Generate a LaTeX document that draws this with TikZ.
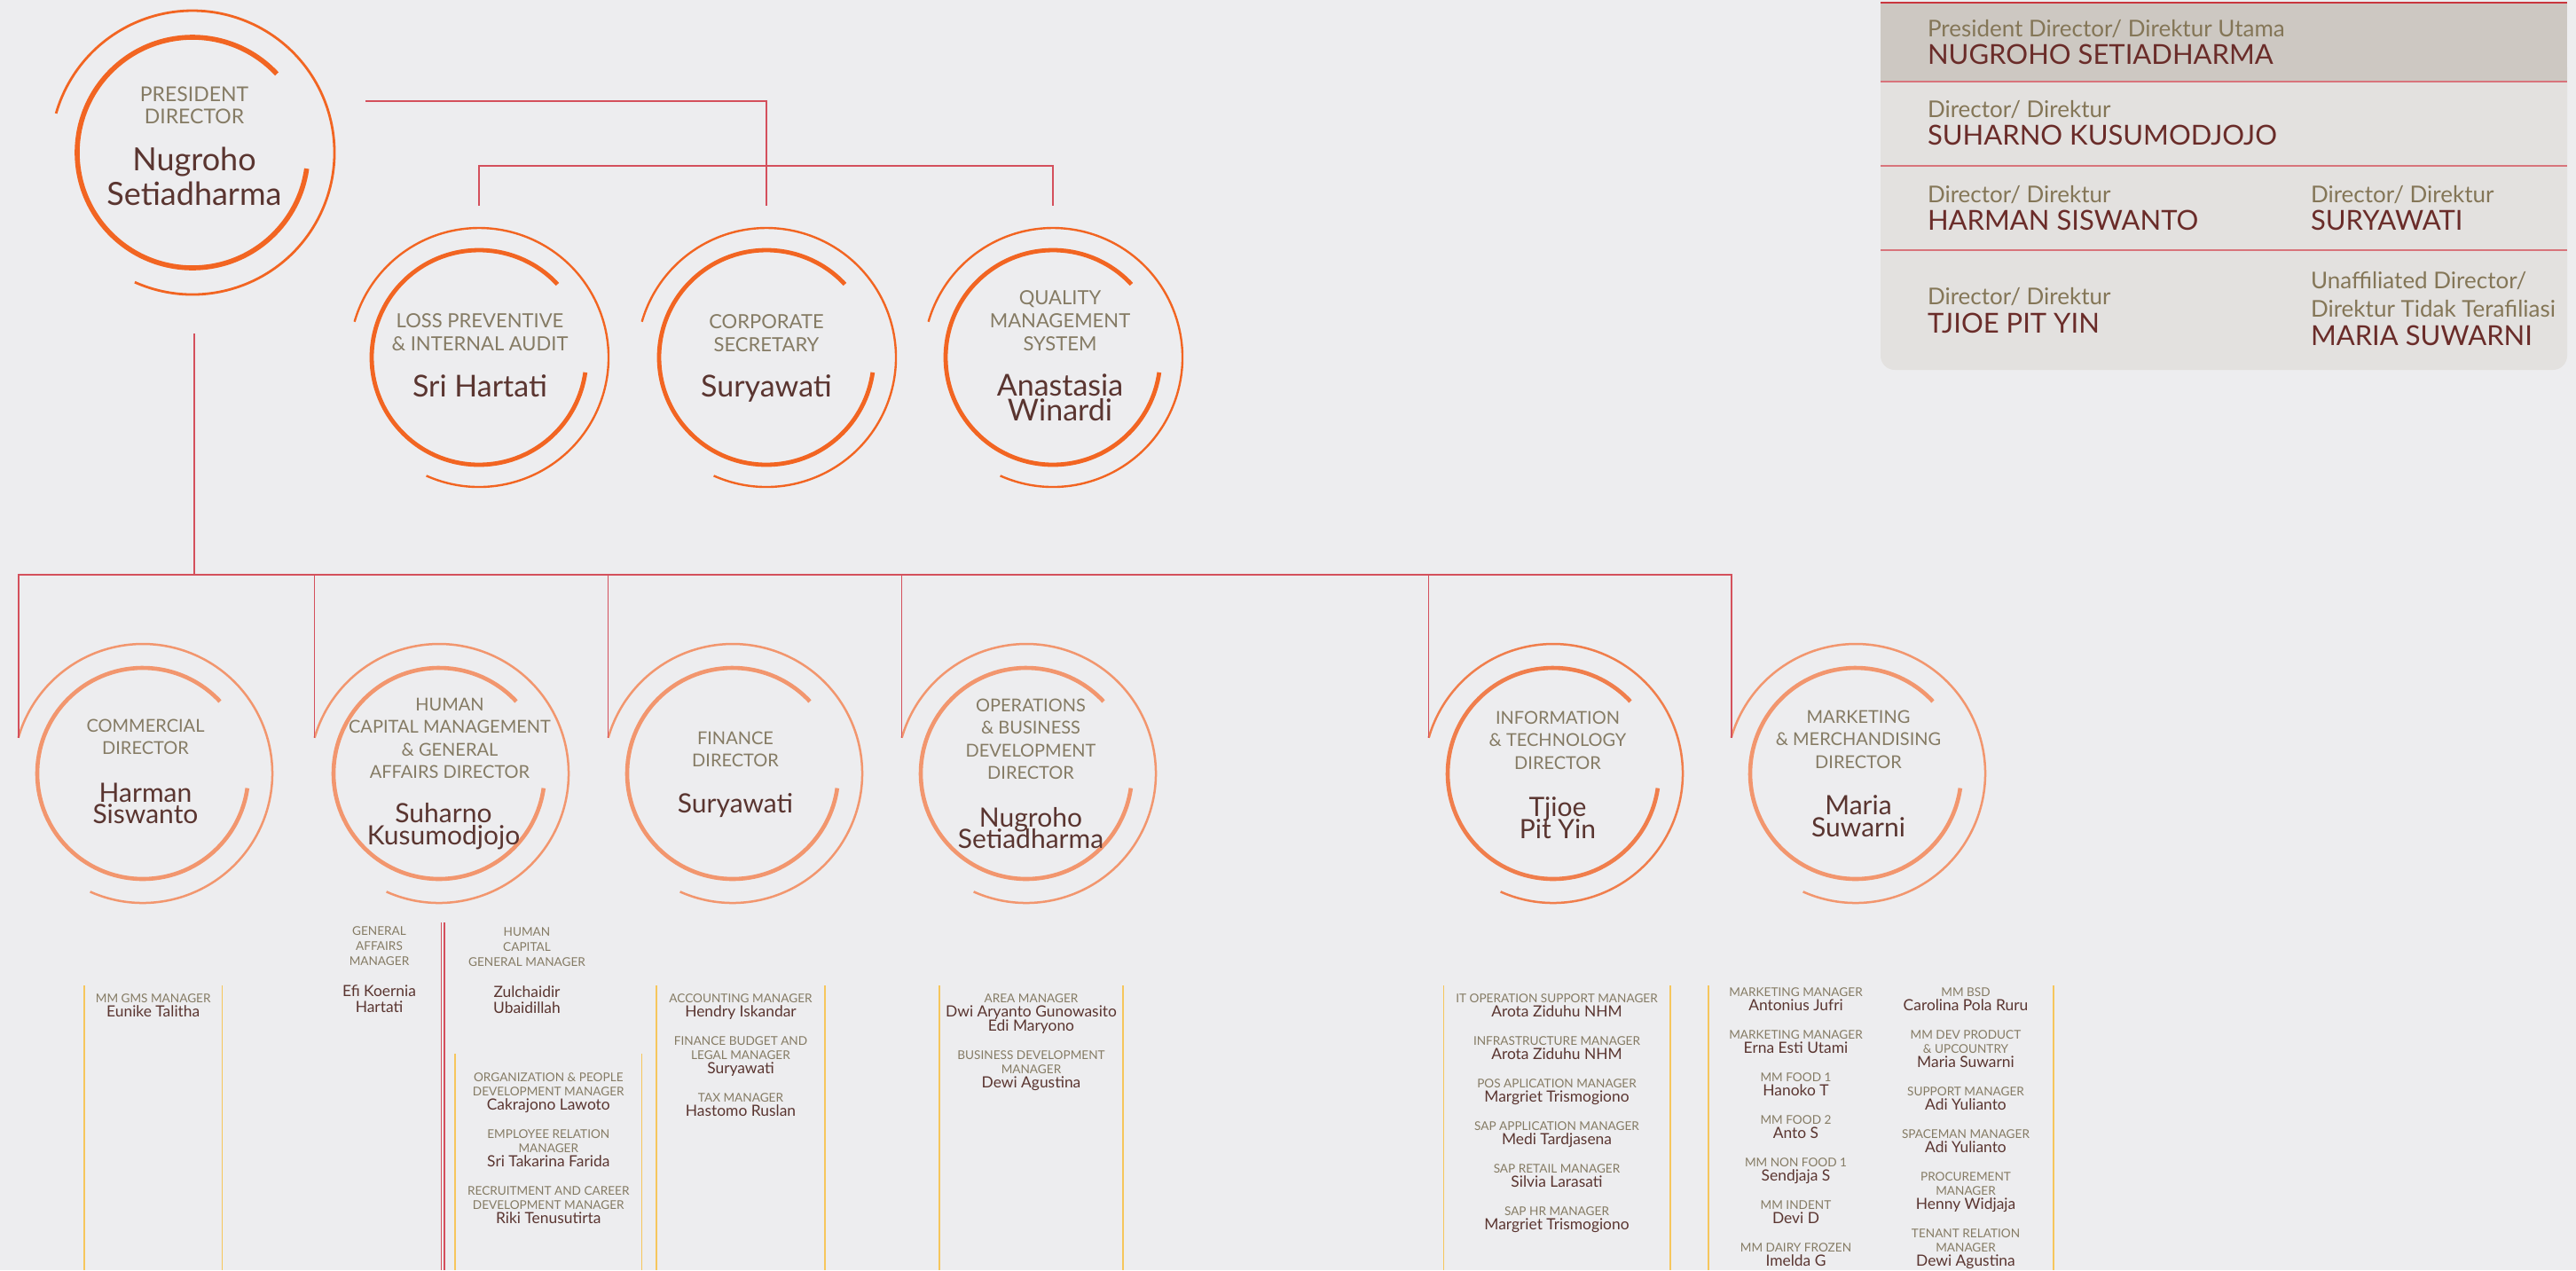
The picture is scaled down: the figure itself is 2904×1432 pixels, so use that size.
\documentclass[tikz,border=0pt]{standalone}
\usepackage{fontspec}
\setmainfont{Lato}
\usetikzlibrary{calc}
\definecolor{bgc}{HTML}{EDEDEF}
\definecolor{ringA}{HTML}{F26522}
\definecolor{ringB}{HTML}{F2966E}
\definecolor{ringC}{HTML}{F07E4C}
\definecolor{ttlc}{HTML}{857B64}
\definecolor{namec}{HTML}{5A3530}
\definecolor{connc}{HTML}{D4505C}
\definecolor{goldc}{HTML}{F6C65C}
\definecolor{lghead}{HTML}{CDC8C2}
\definecolor{lgbody}{HTML}{E3E1DF}
\definecolor{lgsep}{HTML}{D8747B}
\definecolor{lgtop}{HTML}{C9373E}
\definecolor{lgname}{HTML}{6A2C29}
\definecolor{lglab}{HTML}{847657}
\newcommand\cstack[2]{\vtop{\baselineskip=#1\relax\lineskiplimit=-100pt\relax\halign{\hfil##\hfil\cr#2\crcr}}}
\newcommand\mgT{\fontsize{6.8}{8}\selectfont\color{ttlc}}
\newcommand\mgN{\fontsize{8.7}{8}\selectfont\color{namec}}
\newcommand\mstack[2]{\vtop{\baselineskip=#1\relax\lineskiplimit=-100pt\relax\halign{\hfil{\mgT##}\hfil\cr#2\crcr}}}
\tikzset{
  pics/ring/.style n args={5}{code={
    \draw[draw=#3, line width=#4] (114:#1) arc[start angle=114, end angle=-164, radius=#1];
    \draw[draw=#3, line width=#5] (-43:#2) arc[start angle=-43, end angle=-352, radius=#2];
    \coordinate (-in) at (-164:#1);
    \coordinate (-top) at (0,-#1-25);
  }}
}
\begin{document}
\begin{tikzpicture}[x=0.5pt,y=-0.5pt,
  every node/.style={inner sep=0pt, outer sep=0pt},
  ttlA/.style={text=ttlc, anchor=base, font=\fontsize{11.5}{12.7}\selectfont},
  nmA/.style={text=namec, anchor=base, font=\fontsize{18}{19.5}\selectfont},
  ttlB/.style={text=ttlc, anchor=base, font=\fontsize{11}{13.2}\selectfont},
  nmB/.style={text=namec, anchor=base, font=\fontsize{17}{13.2}\selectfont},
  ttlC/.style={text=ttlc, anchor=base, font=\fontsize{10}{12.8}\selectfont},
  nmC/.style={text=namec, anchor=base, font=\fontsize{15}{12.5}\selectfont},
  mcol/.style={anchor=base, font=\fontsize{6.8}{8}\selectfont},
  lgl/.style={anchor=base west, text=lglab, font=\fontsize{13}{15}\selectfont},
  lgn/.style={anchor=base west, text=lgname, font=\fontsize{15.5}{17}\selectfont},
  conn/.style={draw=connc, line width=0.65pt},
  busline/.style={draw=connc, line width=1.1pt},
  gold/.style={draw=goldc, line width=0.8pt},
  redrule/.style={draw=connc, line width=0.55pt}]
\useasboundingbox (0,0) rectangle (2904,1432);
\fill[bgc] (0,0) rectangle (2904,1432);

% legend box
\fill[lgbody, rounded corners=8pt] (2120,60) rectangle (2894,417);
\fill[lghead] (2120,3) rectangle (2894,92);
\draw[lgtop, line width=0.7pt] (2120,3) -- (2894,3);
\foreach \yy in {92,187,282} \draw[lgsep, line width=1.1pt] (2120,\yy) -- (2894,\yy);
\node[lgl] (l1a) at (2173,41) {President Director/ Direktur Utama};
\node[lgn] (l1b) at (2173,72) {NUGROHO SETIADHARMA};
\node[lgl] (l2a) at (2173,132) {Director/ Direktur};
\node[lgn] (l2b) at (2173,163) {SUHARNO KUSUMODJOJO};
\node[lgl] (l3a) at (2173,228) {Director/ Direktur};
\node[lgn] (l3b) at (2173,259) {HARMAN SISWANTO};
\node[lgl] (l3c) at (2605,228) {Director/ Direktur};
\node[lgn] (l3d) at (2605,259) {SURYAWATI};
\node[lgl] (l4a) at (2173,343) {Director/ Direktur};
\node[lgn] (l4b) at (2173,375) {TJIOE PIT YIN};
\node[lgl] (l4c) at (2605,325) {Unaffiliated Director/};
\node[lgl] (l4d) at (2605,357) {Direktur Tidak Terafiliasi};
\node[lgn] (l4e) at (2605,389) {MARIA SUWARNI};

% rings
\pic (pd) at (217,172) {ring={160}{130}{ringA}{1.4pt}{2.8pt}};
\pic (lp) at (540,403) {ring={146}{121}{ringA}{1.2pt}{2.4pt}};
\pic (cs) at (864,403) {ring={146}{121}{ringA}{1.2pt}{2.4pt}};
\pic (qm) at (1187,403) {ring={146}{121}{ringA}{1.2pt}{2.4pt}};
\pic (com) at (161,872) {ring={146}{119}{ringB}{1.25pt}{2.3pt}};
\pic (hc) at (495,872) {ring={146}{119}{ringB}{1.25pt}{2.3pt}};
\pic (fin) at (826,872) {ring={146}{119}{ringB}{1.25pt}{2.3pt}};
\pic (ops) at (1157,872) {ring={146}{119}{ringB}{1.25pt}{2.3pt}};
\pic (it) at (1751,872) {ring={146}{119}{ringC}{1.25pt}{2.3pt}};
\pic (mkt) at (2092,872) {ring={146}{119}{ringB}{1.25pt}{2.3pt}};

% connectors
\coordinate (pd-r) at (412,114);
\coordinate (pd-b) at (219,376);
\coordinate (bus) at (219,648);
\draw[conn] (pd-r) -| (cs-top);
\draw[conn] (lp-top) -- ++(0,-45) -| (qm-top);
\draw[conn] (pd-b) -- (bus);
\draw[busline] (com-in) |- (bus) -- (bus -| mkt-in) -- (mkt-in);
\foreach \n in {hc,fin,ops,it} \draw[conn] (\n-in |- bus) -- (\n-in);

% circle texts
\node[ttlA] (pd-t) at (219,114) {\cstack{12.7pt}{PRESIDENT\cr DIRECTOR}};
\node[nmA] (pd-n) at (219,192) {\cstack{19.5pt}{Nugroho\cr Setiadharma}};
\node[ttlB] (lp-t) at (541,369) {\cstack{13.2pt}{LOSS PREVENTIVE\cr \& INTERNAL AUDIT}};
\node[nmB] (lp-n) at (541,447) {Sri Hartati};
\node[ttlB] (cs-t) at (864,370) {\cstack{13.2pt}{CORPORATE\cr SECRETARY}};
\node[nmB] (cs-n) at (864,447) {Suryawati};
\node[ttlB] (qm-t) at (1195,343) {\cstack{13.2pt}{QUALITY\cr MANAGEMENT\cr SYSTEM}};
\node[nmB] (qm-n) at (1195,446) {\cstack{14.2pt}{Anastasia\cr Winardi}};

\node[ttlC] (com-t) at (164,825) {\cstack{12.8pt}{COMMERCIAL\cr DIRECTOR}};
\node[nmC] (com-n) at (164,904) {\cstack{12.4pt}{Harman\cr Siswanto}};
\node[ttlC] (hc-t) at (507,801) {\cstack{12.8pt}{HUMAN\cr CAPITAL MANAGEMENT\cr \& GENERAL\cr AFFAIRS DIRECTOR}};
\node[nmC] (hc-n) at (500,927) {\cstack{12.6pt}{Suharno\cr Kusumodjojo}};
\node[ttlC] (fin-t) at (829,839) {\cstack{12.8pt}{FINANCE\cr DIRECTOR}};
\node[nmC] (fin-n) at (829,916) {Suryawati};
\node[ttlC] (ops-t) at (1162,802) {\cstack{12.8pt}{OPERATIONS\cr \& BUSINESS\cr DEVELOPMENT\cr DIRECTOR}};
\node[nmC] (ops-n) at (1162,932) {\cstack{12.3pt}{Nugroho\cr Setiadharma}};
\node[ttlC] (it-t) at (1756,816) {\cstack{12.8pt}{INFORMATION\cr \& TECHNOLOGY\cr DIRECTOR}};
\node[nmC] (it-n) at (1756,920) {\cstack{12.5pt}{Tjioe\cr Pit Yin}};
\node[ttlC] (mkt-t) at (2095,815) {\cstack{12.8pt}{MARKETING\cr \& MERCHANDISING\cr DIRECTOR}};
\node[nmC] (mkt-n) at (2095,918) {\cstack{12.8pt}{Maria\cr Suwarni}};

% column rules
\foreach \xx in {95,250.5,740,930,1059,1266,1627.5,1883,1926,2315} \draw[gold] (\xx,1111) -- (\xx,1432);
\foreach \xx in {513,723.5} \draw[gold] (\xx,1188) -- (\xx,1432);
\draw[redrule] (497.4,1040) -- (497.4,1432);
\draw[redrule] (501,1040) -- (501,1432);

% manager columns
\node[mcol] (m-com) at (172.7,1130) {\mstack{8pt}{MM GMS MANAGER\cr \mgN Eunike Talitha}};
\node[mcol] (m-ga) at (427.5,1054) {\mstack{8.7pt}{GENERAL\cr AFFAIRS\cr MANAGER\cr\cr \mgN Efi Koernia\cr \mgN Hartati}};
\node[mcol] (m-hcg) at (594,1055) {\mstack{8.7pt}{HUMAN\cr CAPITAL\cr GENERAL MANAGER\cr\cr \mgN Zulchaidir\cr \mgN Ubaidillah}};
\node[mcol] (m-hc) at (618.3,1219.4) {\mstack{8pt}{ORGANIZATION \& PEOPLE\cr DEVELOPMENT MANAGER\cr \mgN Cakrajono Lawoto\cr\cr EMPLOYEE RELATION\cr MANAGER\cr \mgN Sri Takarina Farida\cr\cr RECRUITMENT AND CAREER\cr DEVELOPMENT MANAGER\cr \mgN Riki Tenusutirta}};
\node[mcol] (m-fin) at (835,1130) {\mstack{8pt}{ACCOUNTING MANAGER\cr \mgN Hendry Iskandar\cr\cr FINANCE BUDGET AND\cr LEGAL MANAGER\cr \mgN Suryawati\cr\cr TAX MANAGER\cr \mgN Hastomo Ruslan}};
\node[mcol] (m-ops) at (1162.5,1130) {\mstack{8pt}{AREA MANAGER\cr \mgN Dwi Aryanto Gunowasito\cr \mgN Edi Maryono\cr\cr BUSINESS DEVELOPMENT\cr MANAGER\cr \mgN Dewi Agustina}};
\node[mcol] (m-it) at (1755,1130) {\mstack{8pt}{IT OPERATION SUPPORT MANAGER\cr \mgN Arota Ziduhu NHM\cr\cr INFRASTRUCTURE MANAGER\cr \mgN Arota Ziduhu NHM\cr\cr POS APLICATION MANAGER\cr \mgN Margriet Trismogiono\cr\cr SAP APPLICATION MANAGER\cr \mgN Medi Tardjasena\cr\cr SAP RETAIL MANAGER\cr \mgN Silvia Larasati\cr\cr SAP HR MANAGER\cr \mgN Margriet Trismogiono}};
\node[mcol] (m-mkl) at (2024.5,1123) {\mstack{8pt}{MARKETING MANAGER\cr \mgN Antonius Jufri\cr\cr MARKETING MANAGER\cr \mgN Erna Esti Utami\cr\cr MM FOOD 1\cr \mgN Hanoko T\cr\cr MM FOOD 2\cr \mgN Anto S\cr\cr MM NON FOOD 1\cr \mgN Sendjaja S\cr\cr MM INDENT\cr \mgN Devi D\cr\cr MM DAIRY FROZEN\cr \mgN Imelda G}};
\node[mcol] (m-mkr) at (2216,1123) {\mstack{8pt}{MM BSD\cr \mgN Carolina Pola Ruru\cr\cr MM DEV PRODUCT\cr \& UPCOUNTRY\cr \mgN Maria Suwarni\cr\cr SUPPORT MANAGER\cr \mgN Adi Yulianto\cr\cr SPACEMAN MANAGER\cr \mgN Adi Yulianto\cr\cr PROCUREMENT\cr MANAGER\cr \mgN Henny Widjaja\cr\cr TENANT RELATION\cr MANAGER\cr \mgN Dewi Agustina}};
\end{tikzpicture}
\end{document}
